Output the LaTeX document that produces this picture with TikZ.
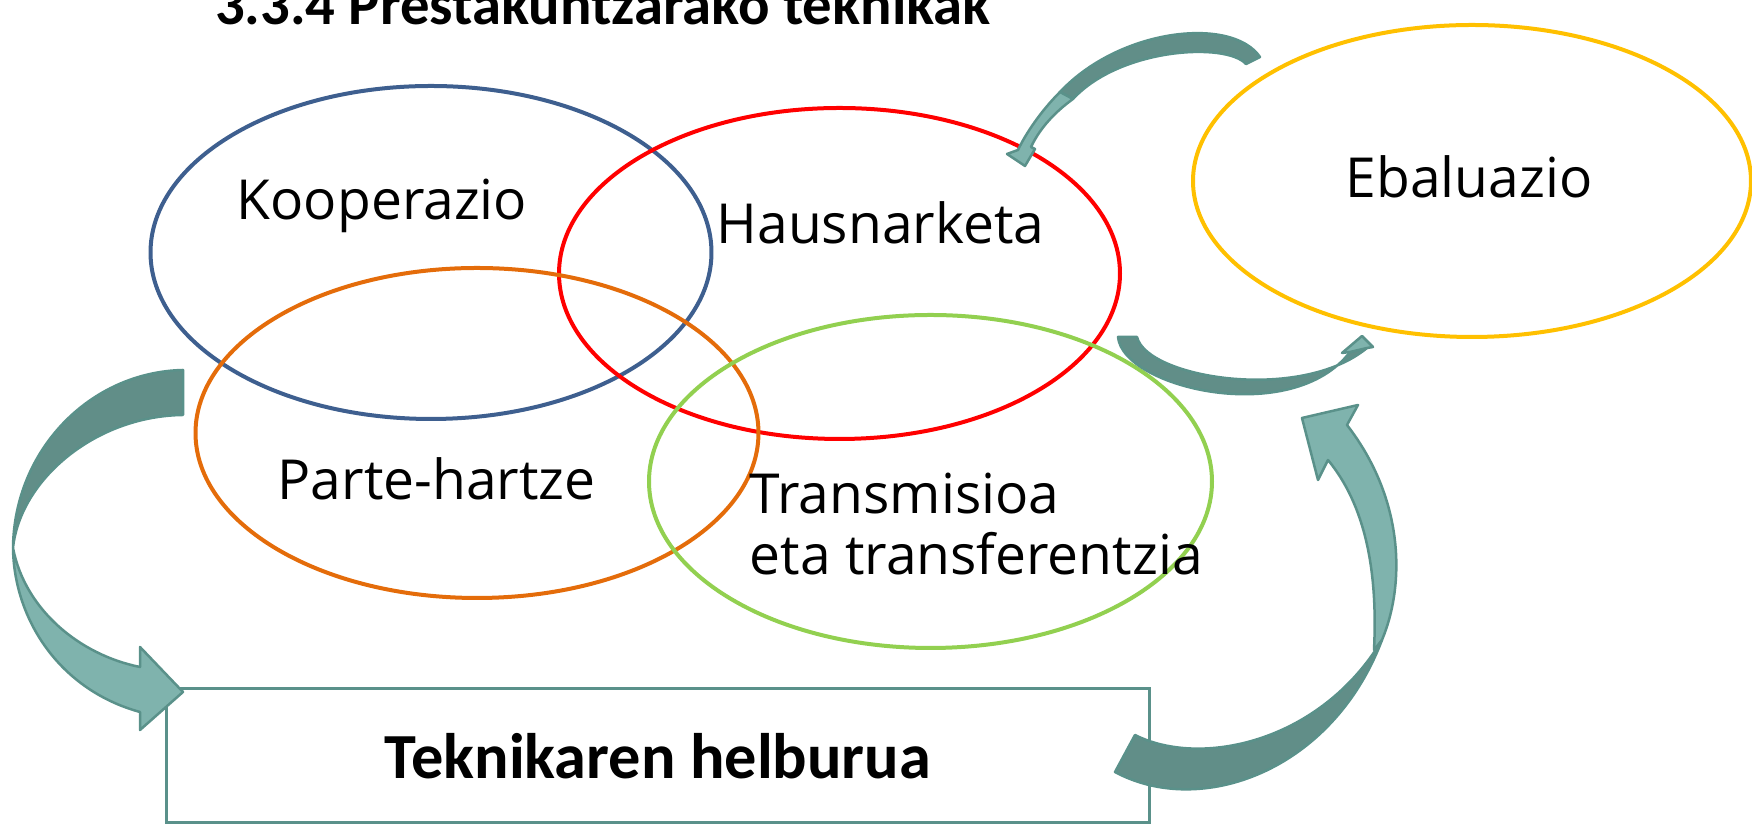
\documentclass[tikz,border=0pt]{standalone}
\usepackage{fontspec}
\setmainfont{Open Sans}
\newfontfamily\calfont{Carlito}
\usetikzlibrary{shapes.geometric}
\definecolor{kblue}{HTML}{3E5F8F}
\definecolor{kred}{HTML}{FF0000}
\definecolor{korange}{HTML}{E46C0A}
\definecolor{kgreen}{HTML}{92D050}
\definecolor{kyellow}{HTML}{FFC000}
\definecolor{arrowline}{HTML}{5A918A}
\definecolor{arrowdark}{HTML}{618E88}
\definecolor{arrowlight}{HTML}{7FB3AD}

\begin{document}
\begin{tikzpicture}[x=0.1mm, y=-0.1mm,
	ring/.style={draw, ellipse, line width=0.4mm, inner sep=0pt},
	lbl/.style={anchor=base west, inner sep=0pt, align=left, font=\fontsize{15.7}{17.6}\selectfont},
	arrdark/.style={fill=arrowdark, draw=arrowline, line width=0.25mm, line join=round},
	arrlight/.style={fill=arrowlight, draw=arrowline, line width=0.25mm, line join=round}]
	\useasboundingbox (0,0) rectangle (1752,826);
	\node[anchor=base, inner sep=0pt, font=\calfont\bfseries\fontsize{16.7}{18}\selectfont] (title) at (603,25) {3.3.4 Prestakuntzarako teknikak};
	\node[ring, draw=kblue, minimum width=56.1mm, minimum height=33.3mm] (koop) at (431,252.5) {};
	\node[ring, draw=kred, minimum width=56.1mm, minimum height=33.1mm] (haus) at (839.5,273.5) {};
	\node[ring, draw=korange, minimum width=56.3mm, minimum height=33mm] (parte) at (477,433) {};
	\node[ring, draw=kgreen, minimum width=56.3mm, minimum height=33.3mm] (trans) at (930.5,481.5) {};
	\node[ring, draw=kyellow, minimum width=55.8mm, minimum height=31.2mm] (ebal) at (1472,181) {};
	\node[lbl] (koopl) at (236,220) {Kooperazio};
	\node[lbl] (hausl) at (716,244) {Hausnarketa};
	\node[lbl] (eball) at (1345,198) {Ebaluazio};
	\node[lbl] (partel) at (277,500) {Parte-hartze};
	\node[lbl] (transl) at (749,575) {Transmisioa\\eta transferentzia};
	\node[draw=arrowline, line width=0.3mm, minimum width=98.4mm, minimum height=13.4mm, font=\calfont\bfseries\fontsize{18.3}{20}\selectfont] (goal) at (658,756) {Teknikaren helburua};
	% left arrow
	\draw[arrdark] (183,370) .. controls (90,372) and (14,450) .. (13,548) .. controls (20,480) and (95,416) .. (183,415) -- cycle;
	\draw[arrlight] (13,548) .. controls (14,620) and (60,690) .. (140,712) -- (140,730) -- (183,692) -- (140,647) -- (140,667) .. controls (80,655) and (25,610) .. (13,548) -- cycle;
	% right arrow
	\draw[arrlight] (1382,640) .. controls (1405,585) and (1405,500) .. (1347,425) -- (1358,405) -- (1302,418) -- (1318,480) -- (1328,460) .. controls (1365,505) and (1378,570) .. (1374,650) -- cycle;
	\draw[arrdark] (1115,772) .. controls (1200,818) and (1332,772) .. (1382,640) .. controls (1320,743) and (1200,768) .. (1135,735) -- cycle;
	% top arrow
	\draw[arrdark] (1260,57) .. controls (1232,16) and (1120,28) .. (1060,92) -- (1073,99) .. controls (1120,48) and (1226,42) .. (1246,64) -- cycle;
	\draw[arrlight] (1060,92) .. controls (1040,112) and (1025,135) .. (1018,150) -- (1007,154) -- (1025,166) -- (1035,149) -- (1031,147) .. controls (1040,128) and (1055,112) .. (1073,99) -- cycle;
	% middle arrow
	\draw[arrdark] (1118,337) .. controls (1123,388) and (1292,428) .. (1350,352) -- (1367,348) .. controls (1300,403) and (1147,378) .. (1137,337) -- cycle;
	\draw[arrlight] (1350,352) -- (1342,353) -- (1362,336) -- (1373,347) -- (1367,348) -- cycle;
\end{tikzpicture}
\end{document}
